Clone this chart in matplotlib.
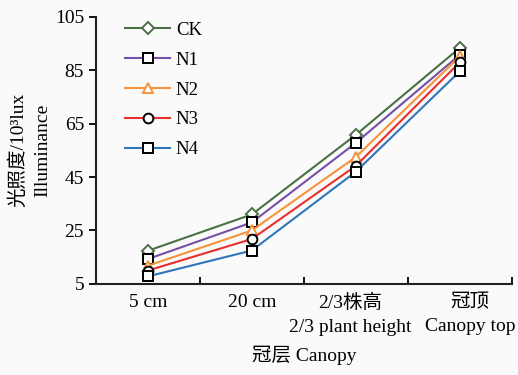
import matplotlib
matplotlib.use("Agg")
import matplotlib.pyplot as plt
import matplotlib.transforms as mtransforms
import numpy as np

plt.rcParams['font.family'] = ['Liberation Serif', 'Noto Sans CJK SC']

categories = ["5 cm", "20 cm", "2/3株高\n2/3 plant height", "冠顶\nCanopy top"]
ck = [17.4, 31.0, 60.8, 93.4]
n1 = [14.3, 28.0, 57.8, 90.8]
n2 = [11.8, 25.0, 52.5, 90.2]
n3 = [10.0, 21.8, 49.2, 88.0]
n4 = [7.8, 17.5, 47.0, 84.6]

series = [
    ("CK", ck, "#4a7045", "D", "#4a7045"),
    ("N1", n1, "#7650a6", "s", "black"),
    ("N2", n2, "#f7923a", "^", "#f7923a"),
    ("N3", n3, "#e8302c", "o", "black"),
    ("N4", n4, "#2f76bb", "s", "black"),
]

fig = plt.figure(figsize=(5.18, 3.75), dpi=100)
fig.patch.set_facecolor("#fafafa")
ax = fig.add_axes([0.185, 0.243, 0.803, 0.712])
ax.set_facecolor("#fafafa")

x = np.arange(len(categories))
for name, vals, color, marker, edge in series:
    ms = 6 if marker == "D" else 7
    ax.plot(x, vals, color=color, lw=1.5, marker=marker, ms=ms,
            mfc="white", mec=edge, mew=1.4, label=name)

ax.set_xlim(-0.5, 3.5)
ax.set_ylim(5, 105)
ax.set_yticks([5, 25, 45, 65, 85, 105])
ax.set_xticks(x)
ax.set_xticklabels(categories, fontsize=14, linespacing=1.55)
ax.set_xticks([0.5, 1.5, 2.5, 3.5], minor=True)
ax.tick_params(axis="x", which="major", length=0, pad=7)
ax.tick_params(axis="x", which="minor", direction="in", length=5, width=1.3)
ax.tick_params(axis="y", direction="out", length=5, width=1.3, labelsize=14)
for s in ["top", "right"]:
    ax.spines[s].set_visible(False)
for s in ["left", "bottom"]:
    ax.spines[s].set_linewidth(1.5)
    ax.spines[s].set_color("#222222")

# nudge the two long labels apart like the original
shifts = [0, 0, -6, 10]
for lab, dx in zip(ax.get_xticklabels(), shifts):
    off = mtransforms.ScaledTranslation(dx / 100, 0, fig.dpi_scale_trans)
    lab.set_transform(lab.get_transform() + off)

ax.set_xlabel("冠层 Canopy", fontsize=14, labelpad=7)
fig.text(0.034, 0.6, "光照度/10³lux", rotation=90, fontsize=14,
         ha="center", va="center")
fig.text(0.083, 0.6, "Illuminance", rotation=90, fontsize=14,
         ha="center", va="center")

leg = ax.legend(loc="upper left", bbox_to_anchor=(0.03, 1.045), frameon=False,
                fontsize=13.5, handlelength=2.4, labelspacing=0.68,
                handletextpad=0.3)

fig.savefig("out.png", dpi=100, facecolor=fig.get_facecolor())
